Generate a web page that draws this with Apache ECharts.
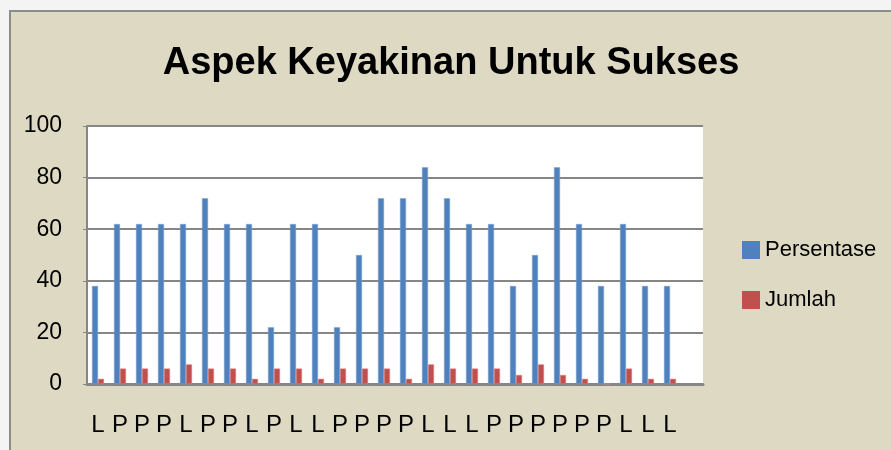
<!DOCTYPE html>
<html>
<head>
    <meta charset="utf-8">
    <title>Aspek Keyakinan Untuk Sukses</title>
    <script src="https://cdn.jsdelivr.net/npm/echarts@6/dist/echarts.min.js"></script>
    <style>
        html, body { margin: 0; padding: 0; background: #f4f4f4; }
        #frame {
            position: absolute; left: 9px; top: 10px;
            width: 900px; height: 460px;
            background: #ddd9c3; border: 2px solid #8c8c8c;
        }
        #main { position: absolute; left: 0; top: 0; width: 891px; height: 450px; }
    </style>
</head>
<body>
    <div id="frame"></div>
    <div id="main"></div>
    <script type="text/javascript">
        // categories (L / P), last slot is empty as in the original
        var kategori = ['L','P','P','P','L','P','P','L','P','L','L','P','P','P',
                        'P','L','L','L','P','P','P','P','P','P','L','L','L',''];
        var persentase = [38, 62, 62, 62, 62, 72, 62, 62, 22, 62, 62, 22, 50, 72,
                          72, 84, 72, 62, 62, 38, 50, 84, 62, 38, 62, 38, 38, null];
        var jumlah = [2, 6, 6, 6, 7.6, 6, 6, 2, 6, 6, 2, 6, 6, 6,
                      2, 7.6, 6, 6, 6, 3.5, 7.6, 3.5, 2, 0, 6, 2, 2, null];
        var yTicks = [0, 20, 40, 60, 80, 100];

        var myChart = echarts.init(document.getElementById('main'));

        var font = 'Liberation Sans';
        var option = {
            backgroundColor: 'transparent',
            animation: false,
            textStyle: { fontFamily: font, color: '#000' },
            title: {
                text: 'Aspek Keyakinan Untuk Sukses',
                left: 446,
                textAlign: 'center',
                top: 40,
                textStyle: { fontFamily: font, fontSize: 38, fontWeight: 'bold', color: '#000' }
            },
            color: ['#4f81bd', '#c0504d'],
            legend: {
                orient: 'vertical',
                left: 742,
                top: 239,
                padding: 0,
                itemWidth: 18,
                itemHeight: 18,
                itemGap: 28,
                icon: 'rect',
                itemStyle: { borderWidth: 0 },
                textStyle: { fontFamily: font, fontSize: 22, lineHeight: 22, color: '#000' },
                data: ['Persentase', 'Jumlah']
            },
            grid: {
                left: 87, top: 126, right: 188, bottom: 66,
                show: true, backgroundColor: '#fff', borderWidth: 0
            },
            xAxis: {
                type: 'category',
                data: kategori,
                axisLine: { lineStyle: { color: '#868686', width: 3 } },
                axisTick: { show: false },
                axisLabel: { interval: 0, fontSize: 24, margin: 29, color: '#000', fontFamily: font }
            },
            yAxis: {
                type: 'value',
                min: yTicks[0],
                max: yTicks[yTicks.length - 1],
                interval: 20,
                axisLine: { show: true, lineStyle: { color: '#868686', width: 2 } },
                axisTick: { show: true, length: 4, lineStyle: { color: '#868686' } },
                splitLine: { lineStyle: { color: '#868686', width: 2 } },
                axisLabel: { fontSize: 23, margin: 25, color: '#000', fontFamily: font }
            },
            series: [{
                name: 'Persentase',
                type: 'bar',
                barWidth: 6,
                barGap: '0%',
                itemStyle: { borderColor: '#7ea2d0', borderWidth: 0.5 },
                data: persentase
            }, {
                name: 'Jumlah',
                type: 'bar',
                barWidth: 6,
                barGap: '0%',
                itemStyle: { borderColor: '#d98a88', borderWidth: 0.5 },
                data: jumlah
            }]
        };

        myChart.setOption(option);
    </script>
</body>
</html>
